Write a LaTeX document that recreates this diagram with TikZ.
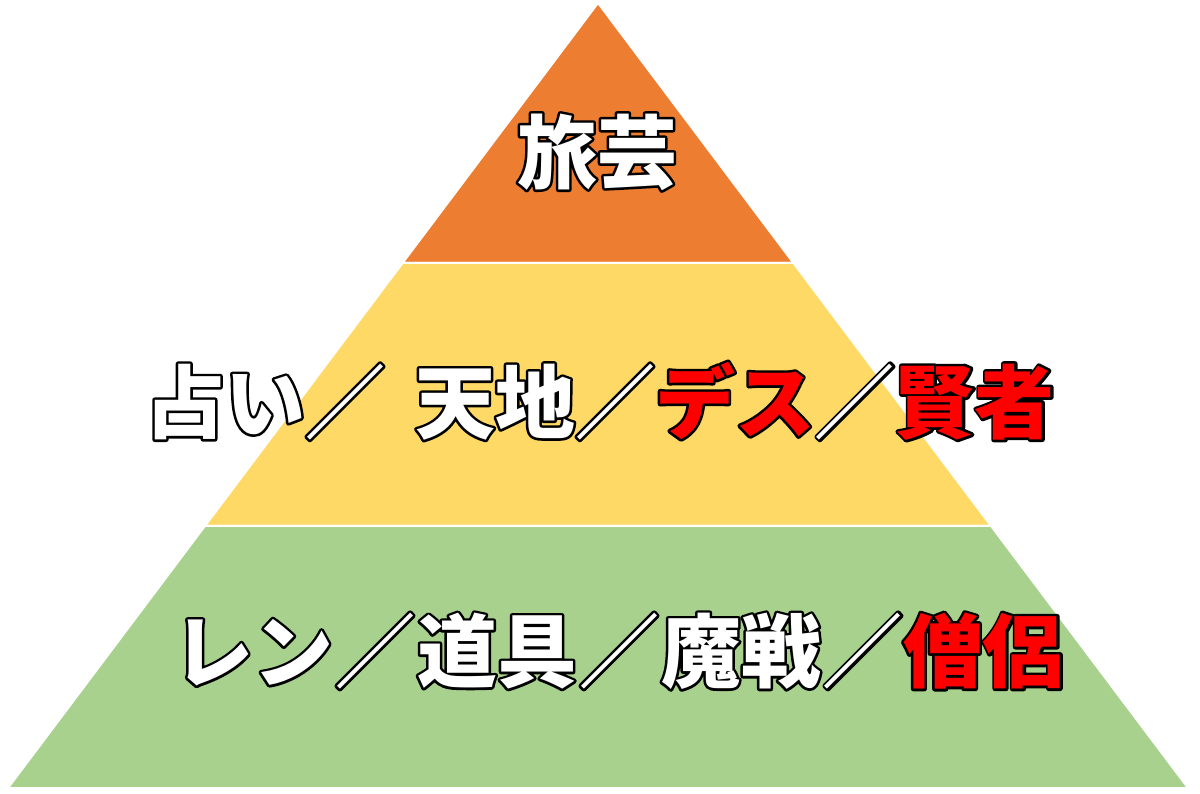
\documentclass[tikz,border=0pt]{standalone}
\usepackage{fontspec}
\usetikzlibrary{calc}
\newfontfamily\jp{Noto Sans CJK JP}
\definecolor{tierorange}{HTML}{ED7D31}
\definecolor{tieryellow}{HTML}{FFD966}
\definecolor{tiergreen}{HTML}{A9D18E}
\definecolor{hired}{HTML}{FF0000}
% outlined text: a thick black stroke pass, then the coloured fill on top
\newcommand{\otxt}[2]{\leavevmode\rlap{\color{black}\special{pdf:code 1 Tr 0 G 5 w 1 j}#2\special{pdf:code 0 Tr 1 w}}{\color{#1}#2}}
\newcommand{\wtxt}[1]{\otxt{white}{#1}}
\newcommand{\rtxt}[1]{\otxt{hired}{#1}}
\tikzset{
  tierlabel/.style={font=\jp\bfseries\fontsize{80}{80}\selectfont, inner sep=0pt, anchor=center},
  tierfill/.style={draw=white, line width=2pt, line join=miter}
}
\begin{document}
\begin{tikzpicture}[x=1pt,y=-1pt]
\useasboundingbox (0,0) rectangle (1200,794);
\fill[white] (0,0) rectangle (1200,794);
\coordinate (apex) at (598,3);
\coordinate (bl) at (8,788);
\coordinate (br) at (1188,788);
\coordinate (l1) at ($(apex)!0.3312!(bl)$);
\coordinate (r1) at ($(apex)!0.3312!(br)$);
\coordinate (l2) at ($(apex)!0.6662!(bl)$);
\coordinate (r2) at ($(apex)!0.6662!(br)$);
\filldraw[tierfill, fill=tierorange] (apex) -- (r1) -- (l1) -- cycle;
\filldraw[tierfill, fill=tieryellow] (l1) -- (r1) -- (r2) -- (l2) -- cycle;
\filldraw[tierfill, fill=tiergreen] (l2) -- (r2) -- (br) -- (bl) -- cycle;
\node[tierlabel] (top) at (597,152) {\wtxt{旅芸}};
\node[tierlabel] (mid) at (600,401) {\wtxt{占い／\hspace{30pt}天地／}\rtxt{デス}\wtxt{／}\rtxt{賢者}};
\node[tierlabel] (bot) at (618,651) {\wtxt{レン\hspace{2pt}／\hspace{2pt}道具\hspace{2pt}／\hspace{2pt}魔戦\hspace{2pt}／}\rtxt{僧侶}};
\end{tikzpicture}
\end{document}
